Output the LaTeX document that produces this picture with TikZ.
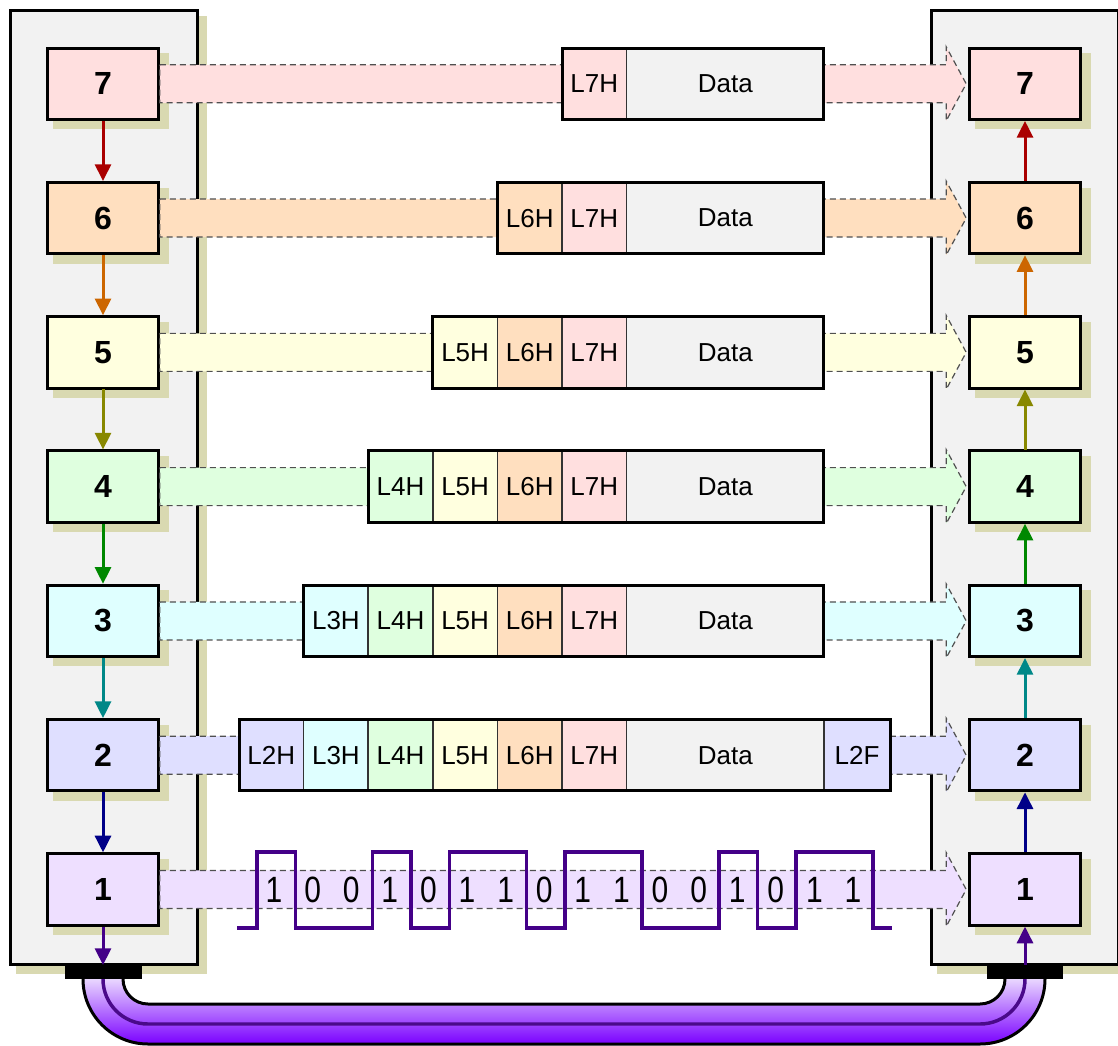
\documentclass[tikz,border=0pt]{standalone}
\usepackage{fontspec}
\setmainfont{Liberation Sans}
\usetikzlibrary{arrows.meta,calc}
\definecolor{c7}{HTML}{FFDFDF}
\definecolor{c6}{HTML}{FFDFBF}
\definecolor{c5}{HTML}{FFFFDF}
\definecolor{c4}{HTML}{DFFFDF}
\definecolor{c3}{HTML}{DFFFFF}
\definecolor{c2}{HTML}{DFDFFF}
\definecolor{c1}{HTML}{EEDFFF}
\definecolor{a7}{HTML}{AA0000}
\definecolor{a6}{HTML}{CC6600}
\definecolor{a5}{HTML}{888800}
\definecolor{a4}{HTML}{008800}
\definecolor{a3}{HTML}{008888}
\definecolor{a2}{HTML}{000088}
\definecolor{a1}{HTML}{440088}
\definecolor{panelc}{HTML}{F2F2F2}
\definecolor{datac}{HTML}{F2F2F2}
\definecolor{shadowc}{HTML}{D9D9B1}
\definecolor{dashc}{HTML}{505050}
\definecolor{cabtop}{HTML}{F0E4FF}
\definecolor{cabbot}{HTML}{7A00FF}
\definecolor{cabline}{HTML}{4A0A8A}
\begin{document}
\begin{tikzpicture}[x=0.75pt,y=-0.75pt,
 layerbox/.style={draw=black,line width=2.25pt,minimum width=83pt,minimum height=53.5pt,inner sep=0pt,outer sep=1.1pt,font=\fontsize{24}{28}\selectfont\bfseries},
 cell/.style={draw=black!80,line width=1.1pt,minimum height=53.5pt,inner sep=0pt,outer sep=0pt,font=\fontsize{19.5}{23}\selectfont},
 frame/.style={draw=black,line width=2.25pt},
 band/.style={draw=dashc,line width=0.9pt,dash pattern=on 4.5pt off 3pt},
 varrow/.style={line width=2.25pt,-{Triangle[length=12.5pt,width=12pt]}},
 wave/.style={draw=a1,line width=2.4pt,line join=miter},
 bit/.style={inner sep=0pt,font=\fontsize{22.5}{26}\selectfont},
 plug/.style={fill=black,draw=none,minimum height=10.5pt,inner sep=0pt,outer sep=0pt},
]
\useasboundingbox (0,0) rectangle (1118,1046);
% panels
\fill[shadowc] (16,16) rectangle (207,974);
\draw[frame,fill=panelc] (10,10) rectangle (197,964);
\fill[shadowc] (937,16) rectangle (1130,974);
\draw[frame,fill=panelc] (931,10) rectangle (1118,964);
% layer boxes
\foreach \i in {1,...,7}{
 \pgfmathsetmacro\yy{83.8+134.28*(7-\i)}
 \fill[shadowc] (53,\yy-30.5) rectangle (169,\yy+45.5);
 \fill[shadowc] (975,\yy-30.5) rectangle (1091,\yy+45.5);
 \node[layerbox,fill=c\i] (L\i) at (103,\yy) {\i};
 \node[layerbox,fill=c\i] (R\i) at (1025,\yy) {\i};
}
% wide arrows
\foreach \i in {1,...,7}{
 \path[band,fill=c\i] let \p1=(L\i.east), \p2=(R\i.west) in
  (\x1,\y1+14.25pt) -- (\x2-16.5pt,\y1+14.25pt) -- (\x2-16.5pt,\y1+27.75pt) -- (\x2-1.5pt,\y1)
  -- (\x2-16.5pt,\y1-27.75pt) -- (\x2-16.5pt,\y1-14.25pt) -- (\x1,\y1-14.25pt) -- cycle;
}
% packets
\foreach \r in {7,...,2}{
 \pgfmathsetmacro\yy{83.8+134.28*(7-\r)}
 \foreach \k in {\r,...,7}{
  \node[cell,fill=c\k,minimum width=48.45pt] (P\r-\k) at ({239+(\k-2)*64.6+32.3},\yy) {L\k H};
 }
 \node[cell,fill=datac,minimum width=148pt] (P\r-D) at ({(626.6+824)/2},\yy) {Data};
}
\node[cell,fill=c2,minimum width=49.5pt] (P2-F) at (857,755.2) {L2F};
\foreach \r in {7,...,3}{
 \draw[frame] (P\r-\r.north west) rectangle (P\r-D.south east);
}
\draw[frame] (P2-2.north west) rectangle (P2-F.south east);
% signal
\draw[wave] (237,928) -- (257,928) -- (257,852) -- (295.5,852) -- (295.5,928) -- (372.5,928) -- (372.5,852)
 -- (411,852) -- (411,928) -- (449.5,928) -- (449.5,852) -- (526.5,852) -- (526.5,928) -- (565,928)
 -- (565,852) -- (642,852) -- (642,928) -- (719,928) -- (719,852) -- (757.5,852) -- (757.5,928)
 -- (796,928) -- (796,852) -- (873,852) -- (873,928) -- (892,928);
\foreach \b [count=\n from 0] in {1,0,0,1,0,1,1,0,1,1,0,0,1,0,1,1}{
 \node[bit] (bit\n) at ({274+38.6*\n},889.5) {\scalebox{1}[1.22]{\b}};
}
% cable
\shadedraw[top color=cabtop,bottom color=cabbot,line width=2.25pt]
 (83,975) -- (83,979) .. controls (83,1014.9) and (112.1,1044) .. (148,1044) -- (980,1044)
 .. controls (1015.9,1044) and (1045,1014.9) .. (1045,979) -- (1045,975) -- (1005,975) -- (1005,979)
 .. controls (1005,992.8) and (993.8,1004) .. (980,1004) -- (148,1004)
 .. controls (134.2,1004) and (123,992.8) .. (123,979) -- (123,975) -- cycle;
\draw[cabline,line width=2.6pt] (103,975) -- (103,979) .. controls (103,1003.9) and (123.1,1024) .. (148,1024)
 -- (980,1024) .. controls (1004.9,1024) and (1025,1003.9) .. (1025,979) -- (1025,975);
\node[plug,minimum width=57.75pt] (plugL) at (103,972) {};
\node[plug,minimum width=57pt] (plugR) at (1025,972) {};
% layer arrows
\foreach \i/\j in {7/6,6/5,5/4,4/3,3/2,2/1}{
 \draw[varrow,a\i] (L\i.south) -- (L\j.north);
 \draw[varrow,a\i] (R\j.north) -- (R\i.south);
}
\draw[varrow,a1] (L1.south) -- (plugL.north);
\draw[varrow,a1] (plugR.north) -- (R1.south);
\end{tikzpicture}
\end{document}
